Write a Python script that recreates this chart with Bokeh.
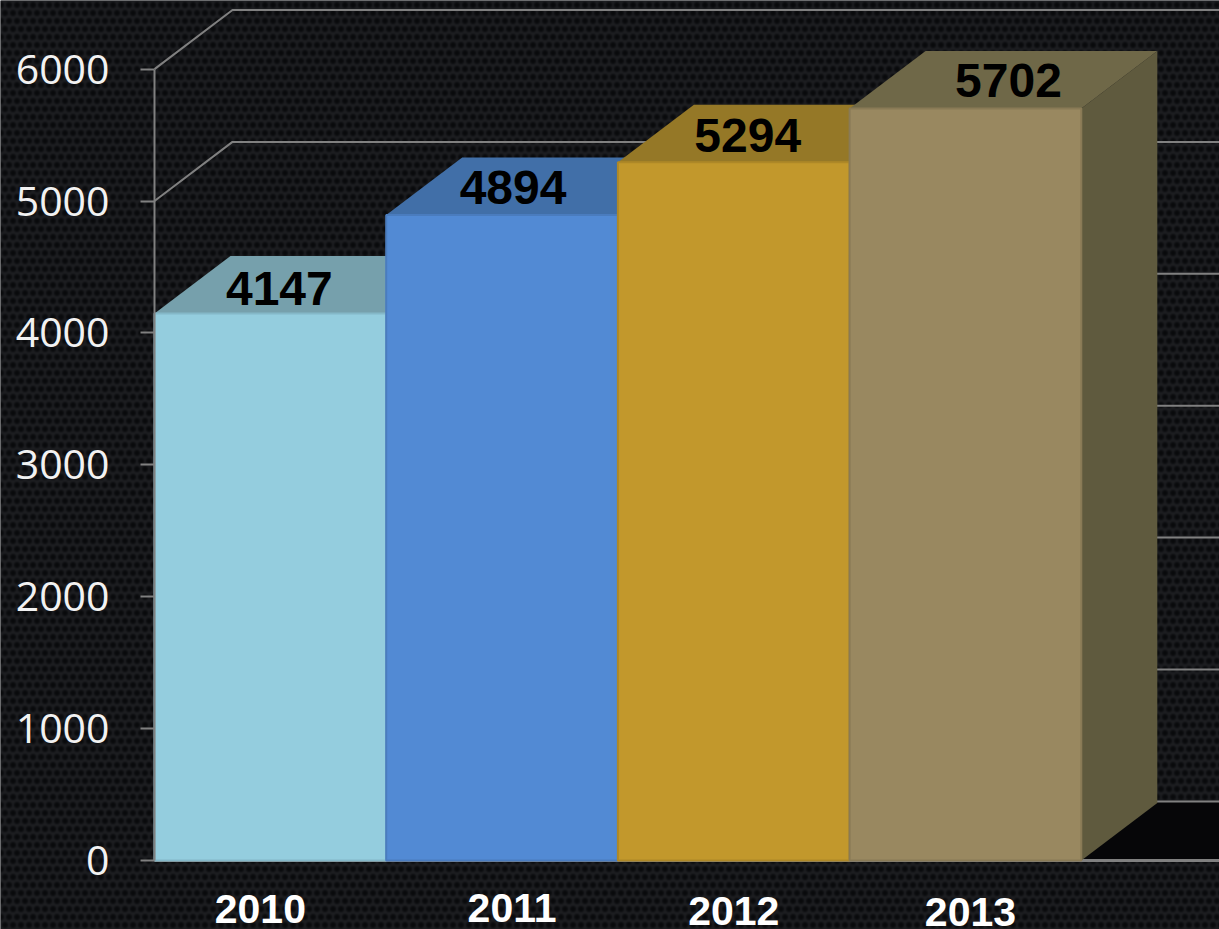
import numpy as np
from bokeh.plotting import figure
from bokeh.models import Range1d, LinearAxis, FixedTicker
from bokeh.core.properties import value
from bokeh.embed import file_html
from bokeh.resources import INLINE

years = ["2010", "2011", "2012", "2013"]
values = [4147, 4894, 5294, 5702]
tick_values = [0, 1000, 2000, 3000, 4000, 5000, 6000]

front_colors = ["#94CDDE", "#528AD4", "#C2982C", "#998860"]
top_colors = ["#76A0AC", "#416FA8", "#957827", "#6F6848"]
side_colors = ["#5F5A3E", "#5F5A3E", "#5F5A3E", "#5F5A3E"]
edge_colors = ["#84B8C8", "#4A7CBE", "#AE8827", "#897A56"]

value_dx = [9, 11, 14, 43]
value_dy = [-25, -27, -27, -28]
year_dx = [-10, 10, 0, 5]
year_dy = [48, 47, 50, 51]

W, H = 1219, 929
UNIT_PX = 231.7
PX_PER_VALUE = 0.1319
BAR_LEFT = -0.5
X0 = BAR_LEFT - 154 / UNIT_PX
X1 = X0 + W / UNIT_PX
Y1 = 860 / PX_PER_VALUE
Y0 = -69 / PX_PER_VALUE
DX = 76 / UNIT_PX
WALL_DX = 78 / UNIT_PX
BAR_DY = 436
WALL_DY = 448

GRID = "#808080"
BG = "#101114"

p = figure(width=W, height=H, output_backend="svg", toolbar_location=None,
           x_range=Range1d(X0, X1), y_range=Range1d(Y0, Y1),
           x_axis_type=None, y_axis_type=None,
           min_border_left=0, min_border_right=0, min_border_top=0, min_border_bottom=0)
p.grid.visible = False
p.outline_line_color = None
p.background_fill_color = BG
p.border_fill_color = BG

# carbon-fibre backdrop texture: staggered dark holes in a lighter web
yy, xx = np.mgrid[0:H, 0:W]
PERIOD = 8
u = (xx + (yy // PERIOD % 2) * PERIOD / 2) % PERIOD - PERIOD / 2
w = yy % PERIOD - PERIOD / 2
d = np.sqrt(u * u + w * w)
t = np.clip((d - 1.5) / 2.5, 0, 1)
tex = np.zeros((H, W), dtype=np.uint32)
view = tex.view(dtype=np.uint8).reshape((H, W, 4))
view[..., 0] = (9 + t * 19).astype(np.uint8)
view[..., 1] = (10 + t * 19).astype(np.uint8)
view[..., 2] = (12 + t * 20).astype(np.uint8)
view[..., 3] = 255
p.image_rgba(image=[tex], x=X0, y=Y0, dw=X1 - X0, dh=Y1 - Y0)

axis = LinearAxis(ticker=FixedTicker(ticks=tick_values), bounds=(0, 6000), fixed_location=BAR_LEFT)
axis.axis_line_color = GRID
axis.axis_line_width = 2
axis.major_tick_line_color = GRID
axis.major_tick_line_width = 2
axis.major_tick_out = 14
axis.major_tick_in = 0
axis.minor_tick_line_color = None
axis.major_label_standoff = 31
axis.major_label_text_color = "#F2F2F2"
axis.major_label_text_font = "Open Sans"
axis.major_label_text_font_size = "41px"
p.add_layout(axis, "left")

# dark floor
p.patch([BAR_LEFT, X1 + 1, X1 + 1, BAR_LEFT + WALL_DX], [0, 0, WALL_DY, WALL_DY], fill_color="#060608", line_color=None)

# back-wall grid lines
for t_val in tick_values:
    p.line([BAR_LEFT, BAR_LEFT + WALL_DX, X1 + 1], [t_val, t_val + WALL_DY, t_val + WALL_DY], line_color=GRID, line_width=2)
p.line([BAR_LEFT, X1 + 1], [0, 0], line_color=GRID, line_width=3)

# bars, left to right so that each one covers its neighbour's depth
for i, v in enumerate(values):
    l, r = i - 0.5, i + 0.5
    p.patch([r, r + DX, r + DX, r], [0, BAR_DY, v + BAR_DY, v], fill_color=side_colors[i], line_color=None)
    p.patch([l, r, r + DX, l + DX], [v, v, v + BAR_DY, v + BAR_DY], fill_color=top_colors[i], line_color=None)
    p.quad(left=[l], right=[r], bottom=[0], top=[v], fill_color=front_colors[i],
           line_color=edge_colors[i], line_width=2)

xs = list(range(len(years)))
p.text(xs, values, text=[str(v) for v in values], x_offset=value_dx, y_offset=value_dy,
       text_align="center", text_baseline="middle", text_color="#000000",
       text_font=value("Liberation Sans"), text_font_style="bold", text_font_size="48px")
p.text(xs, [0] * len(xs), text=years, x_offset=year_dx, y_offset=year_dy,
       text_align="center", text_baseline="middle", text_color="#FFFFFF",
       text_font=value("Liberation Sans"), text_font_style="bold", text_font_size="41px")

open("out.html", "w").write(file_html(p, INLINE))
